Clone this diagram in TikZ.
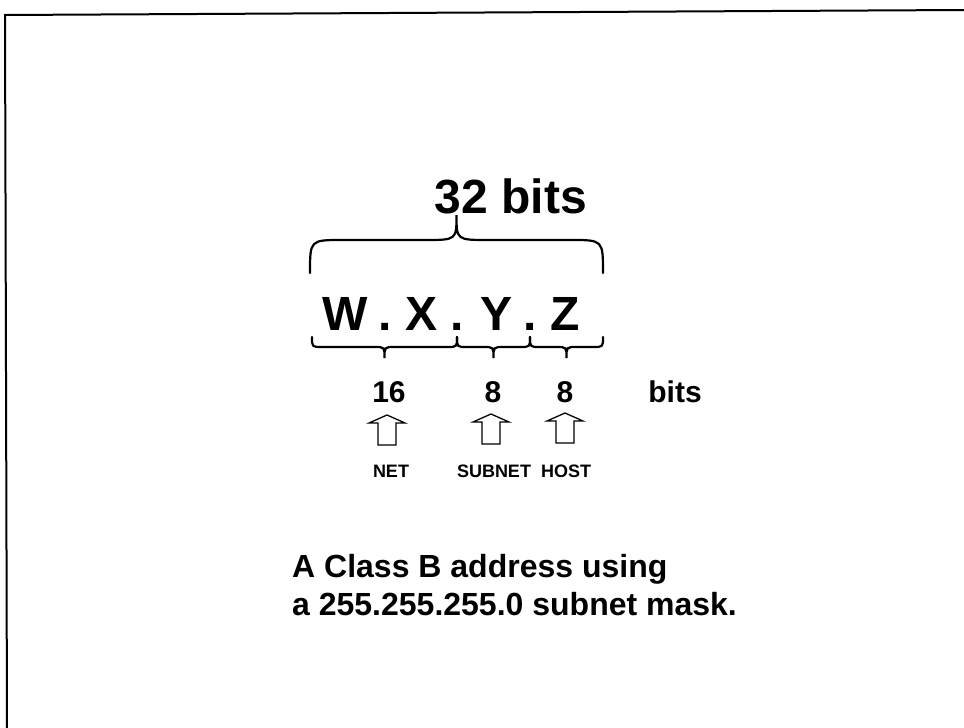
\documentclass[tikz,border=0pt]{standalone}
\usepackage{fontspec}
\setmainfont{Liberation Sans}
\usetikzlibrary{positioning}

% geschweifte Klammer: x1, x2, y0, Spitze, Steg, Radius
\newcommand{\klammer}[6]{%
  \pgfmathsetmacro{\km}{(#1+#2)/2}
  \draw[klammerlinie] (#1,#3) .. controls (#1,{#3+(#5)}) .. ({#1+#6},{#3+(#5)})
    -- ({\km-#6},{#3+(#5)}) .. controls (\km,{#3+(#5)}) .. (\km,{#3+(#4)})
    .. controls (\km,{#3+(#5)}) .. ({\km+#6},{#3+(#5)})
    -- ({#2-#6},{#3+(#5)}) .. controls (#2,{#3+(#5)}) .. (#2,#3);
}

\begin{document}
\begin{tikzpicture}[x=1pt, y=-1pt,
        every node/.style={inner sep=0pt, anchor=base},
        titel/.style={font=\fontsize{48}{48}\selectfont\bfseries},
        buchstabe/.style={font=\fontsize{48}{48}\selectfont\bfseries},
        zahl/.style={font=\fontsize{30}{30}\selectfont\bfseries},
        teil/.style={font=\fontsize{18}{18}\selectfont\bfseries},
        satz/.style={font=\fontsize{32}{32}\selectfont\bfseries, anchor=base west},
        klammerlinie/.style={draw=black, line width=2.2pt, line cap=round},
        rahmen/.style={draw=black, line width=2pt},
        pics/hohlpfeil/.style={code={
            \draw[line width=1.3pt, line join=miter]
              (0,0) -- (18,8) -- (9,8) -- (9,30) -- (-9,30) -- (-9,8) -- (-18,8) -- cycle;
        }}
    ]
        \useasboundingbox (0,0) rectangle (964,728);
        \draw[rahmen] (7,728) -- (5,15) -- (964,10);

        \node[titel] (gesamt) at (511,213) {32 bits};
        \klammer{310}{603}{273}{-58}{-33}{32}

        \node[buchstabe] (w)  at (345,330) {W};
        \node[buchstabe] (p1) at (385,330) {.};
        \node[buchstabe] (x)  at (422,330) {X};
        \node[buchstabe] (p2) at (457,330) {.};
        \node[buchstabe] (y)  at (497,330) {Y};
        \node[buchstabe] (p3) at (530,330) {.};
        \node[buchstabe] (z)  at (565,330) {Z};

        \klammer{312}{457}{337}{21}{10}{10}
        \klammer{457}{530}{337}{21}{10}{10}
        \klammer{530}{603}{337}{21}{10}{10}

        \node[zahl] (n16) at (389,402) {16};
        \node[zahl] (n8a) at (493,402) {8};
        \node[zahl] (n8b) at (565,402) {8};
        \node[zahl] (bits) at (675,402) {bits};

        \foreach \px/\py in {387/415, 491/414, 565/413}
            \pic at (\px,\py) {hohlpfeil};

        \node[teil] (net)    at (391,477) {NET};
        \node[teil] (subnet) at (494,477) {SUBNET};
        \node[teil] (host)   at (566,477) {HOST};

        \node[satz] (zeile1) at (292,577) {A Class B address using};
        \node[satz] (zeile2) at (292,615) {a 255.255.255.0 subnet mask.};
    \end{tikzpicture}
\end{document}
